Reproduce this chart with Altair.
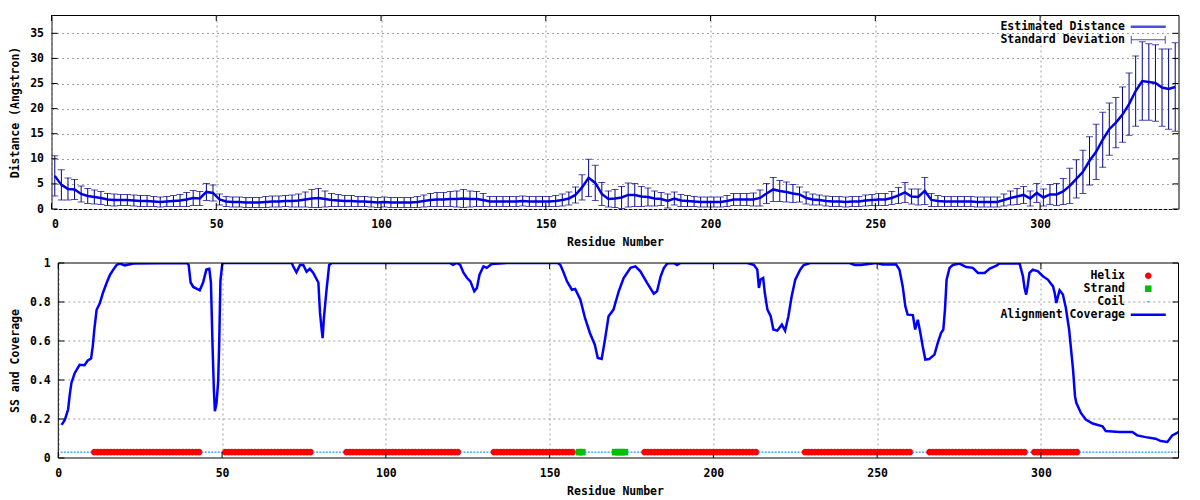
import altair as alt
import pandas as pd

FONT = "DejaVu Sans Mono"
FS = 11.5

# ---------------- top panel data (every second residue) ----------------
dist_residue = list(range(1, 342, 2))
dist_mean = [
    6.6, 4.8, 4.0, 3.9, 3.0, 2.6, 2.4, 2.2, 1.9, 1.8,
    1.8, 1.8, 1.7, 1.6, 1.6, 1.5, 1.4, 1.5, 1.6, 1.7,
    1.9, 2.2, 2.1, 3.4, 3.2, 1.9, 1.5, 1.4, 1.4, 1.3,
    1.3, 1.3, 1.4, 1.5, 1.5, 1.6, 1.6, 1.7, 1.9, 2.1,
    2.2, 2.0, 1.8, 1.7, 1.6, 1.6, 1.5, 1.5, 1.4, 1.3,
    1.4, 1.3, 1.3, 1.3, 1.3, 1.4, 1.6, 1.8, 1.9, 1.9,
    2.0, 2.0, 2.1, 2.0, 2.0, 1.8, 1.5, 1.5, 1.5, 1.5,
    1.5, 1.6, 1.5, 1.5, 1.5, 1.5, 1.6, 1.8, 2.1, 2.8,
    4.3, 6.2, 5.2, 3.0, 2.0, 2.1, 2.3, 2.8, 2.8, 2.5,
    2.4, 2.1, 2.0, 1.6, 2.1, 1.7, 1.6, 1.5, 1.4, 1.4,
    1.4, 1.4, 1.6, 1.9, 1.9, 1.9, 1.9, 2.2, 3.1, 3.9,
    3.6, 3.4, 3.1, 2.9, 2.2, 1.9, 1.8, 1.6, 1.5, 1.5,
    1.4, 1.5, 1.5, 1.7, 1.8, 1.9, 1.9, 2.2, 2.7, 3.3,
    2.5, 2.4, 3.6, 1.8, 1.6, 1.5, 1.5, 1.5, 1.5, 1.5,
    1.4, 1.4, 1.4, 1.4, 1.8, 2.2, 2.5, 2.8, 2.1, 3.2,
    2.3, 2.9, 2.9, 3.5, 4.6, 6.0, 7.4, 9.6, 11.4, 13.8,
    15.9, 17.2, 18.8, 20.9, 23.5, 25.5, 25.3, 25.1, 24.2, 23.9,
    24.3,
]
dist_sd = [
    4.0, 3.0, 2.2, 2.0, 1.6, 1.5, 1.4, 1.3, 1.2, 1.2,
    1.1, 1.1, 1.1, 1.1, 1.1, 1.0, 1.0, 1.0, 1.1, 1.2,
    1.4, 1.5, 1.4, 1.7, 1.6, 1.1, 1.0, 1.0, 1.0, 1.0,
    1.0, 1.0, 1.1, 1.1, 1.1, 1.1, 1.2, 1.3, 1.5, 1.8,
    1.9, 1.6, 1.3, 1.2, 1.1, 1.1, 1.0, 1.0, 1.0, 1.0,
    1.0, 1.0, 1.0, 1.0, 1.0, 1.1, 1.2, 1.3, 1.4, 1.4,
    1.5, 1.6, 1.8, 1.6, 1.5, 1.3, 1.0, 1.0, 1.0, 1.0,
    1.0, 1.0, 1.0, 1.0, 1.0, 1.0, 1.1, 1.2, 1.3, 1.6,
    2.5, 3.7, 3.5, 2.3, 1.6, 1.8, 2.2, 2.4, 2.3, 2.0,
    1.8, 1.5, 1.3, 1.4, 1.3, 1.2, 1.1, 1.0, 1.0, 1.0,
    1.0, 1.0, 1.1, 1.2, 1.2, 1.2, 1.3, 1.6, 2.0, 2.4,
    2.1, 2.0, 1.8, 1.5, 1.2, 1.1, 1.0, 1.0, 1.0, 1.0,
    1.0, 1.0, 1.0, 1.1, 1.1, 1.2, 1.2, 1.3, 1.6, 2.0,
    1.5, 1.6, 2.7, 1.3, 1.1, 1.0, 1.0, 1.0, 1.0, 1.0,
    1.0, 1.0, 1.0, 1.0, 1.2, 1.4, 1.6, 1.7, 1.5, 1.9,
    1.7, 2.0, 2.2, 2.6, 3.5, 3.8, 4.3, 4.8, 5.5, 5.5,
    5.2, 5.0, 5.5, 6.2, 7.0, 7.8, 7.6, 7.6, 7.7, 8.0,
    8.8,
]

# ---------------- bottom panel data ----------------
cov_residue = [
    1, 2, 3, 3.5, 4, 5, 6.5, 8, 9, 10,
    10.5, 11, 11.7, 12.7, 13.7, 14.8, 15.8, 16.8, 17.8, 18.8,
    20.3, 22.9, 39.3, 39.8, 40.4, 41.2, 43.2, 44.2, 45.2, 46.1,
    46.6, 47.1, 47.5, 47.8, 48.3, 48.8, 49.1, 49.5, 50.1, 71.3,
    71.7, 72.7, 73.8, 74.8, 75.8, 76.8, 77.8, 79.4, 79.9, 80.4,
    80.7, 81.1, 81.9, 82.7, 83.5, 119.5, 120.5, 121.7, 122.7, 123.7,
    124.8, 125.8, 127, 127.8, 128.6, 129.8, 130.8, 132.3, 137, 152.5,
    153.3, 154.3, 155.3, 156.8, 157.8, 159.4, 160.8, 162.3, 163.8, 164.7,
    165.9, 166.9, 168, 169.5, 171.1, 172.6, 174.7, 176.2, 177.7, 179.8,
    181.8, 182.8, 183.9, 184.9, 185.9, 187.9, 188.9, 190, 210.4, 212.4,
    213.4, 213.9, 214.4, 215.2, 215.7, 216.5, 217.5, 218.3, 219.5, 220.9,
    221.9, 222.9, 223.9, 225, 226.5, 227.5, 229.5, 241.6, 243.1, 245,
    249.8, 251.7, 255.8, 256.8, 257.8, 258.6, 259.3, 260.9, 261.6, 262.4,
    263.1, 263.9, 264.7, 265.9, 267.5, 268.5, 269.5, 270.2, 270.7, 271.2,
    272.1, 273.1, 275.1, 277.2, 279.2, 280.8, 282.8, 284.4, 286.4, 287.3,
    293.5, 294.5, 295, 295.5, 296, 296.5, 297.5, 299.1, 300.6, 302.1,
    303.7, 304.2, 304.7, 305.2, 305.7, 306.7, 307.6, 308.6, 309.4, 309.8,
    310.4, 310.8, 312.2, 313.7, 315.8, 318.8, 319.8, 323.9, 327.9, 329.4,
    332, 335, 336.6, 338.6, 340.1, 342,
]
cov_value = [
    0.17, 0.195, 0.25, 0.325, 0.385, 0.435, 0.478, 0.476, 0.5, 0.51,
    0.57, 0.66, 0.76, 0.795, 0.85, 0.9, 0.94, 0.966, 0.99, 0.997,
    0.988, 0.997, 1.0, 0.99, 0.9, 0.877, 0.86, 0.9, 0.966, 0.97,
    0.9, 0.57, 0.35, 0.24, 0.28, 0.39, 0.57, 0.91, 1.0, 1.0,
    0.983, 0.952, 0.99, 0.99, 0.955, 0.97, 0.95, 0.9, 0.744, 0.66,
    0.615, 0.72, 0.863, 0.99, 1.0, 1.0, 0.99, 1.0, 0.99, 0.95,
    0.923, 0.906, 0.855, 0.872, 0.94, 0.983, 0.975, 0.995, 1.0, 1.0,
    0.99, 0.95, 0.906, 0.863, 0.867, 0.812, 0.718, 0.641, 0.581, 0.513,
    0.508, 0.607, 0.727, 0.761, 0.855, 0.923, 0.975, 0.983, 0.957, 0.897,
    0.843, 0.855, 0.932, 0.975, 0.997, 1.0, 0.99, 1.0, 1.0, 0.99,
    0.966, 0.872, 0.915, 0.923, 0.846, 0.761, 0.727, 0.659, 0.653, 0.684,
    0.653, 0.727, 0.829, 0.915, 0.966, 0.988, 1.0, 1.0, 0.99, 0.99,
    1.0, 0.992, 0.992, 0.966, 0.88, 0.778, 0.735, 0.733, 0.659, 0.709,
    0.65, 0.573, 0.505, 0.508, 0.53, 0.59, 0.641, 0.659, 0.761, 0.915,
    0.975, 0.99, 0.997, 0.979, 0.975, 0.949, 0.949, 0.971, 0.986, 0.997,
    0.997, 0.932, 0.872, 0.838, 0.889, 0.949, 0.966, 0.957, 0.932, 0.915,
    0.88, 0.846, 0.795, 0.829, 0.86, 0.838, 0.77, 0.659, 0.522, 0.454,
    0.317, 0.283, 0.231, 0.197, 0.177, 0.163, 0.138, 0.133, 0.133, 0.116,
    0.107, 0.099, 0.087, 0.082, 0.116, 0.133,
]

n_residues = 342
ss_level = 0.03
helix_start = [11, 51, 88, 133, 179, 228, 266, 298]
helix_end = [43, 77, 122, 157, 213, 260, 295, 311]
strand_start = [159, 170]
strand_end = [160, 173]

x_ticks = [0, 50, 100, 150, 200, 250, 300]
dist_ticks = [0, 5, 10, 15, 20, 25, 30, 35]
cov_ticks = [0, 0.2, 0.4, 0.6, 0.8, 1.0]
x_range = [0, 342]

top_labels = ["Estimated Distance", "Standard Deviation"]
top_colors = ["#0000e0", "#00008b"]
ss_labels = ["Helix", "Strand", "Coil", "Alignment Coverage"]
ss_colors = ["#ff0000", "#00c000", "#2090ff", "#0000ff"]

# symbol outlines in pixels (drawn with symbol size 4 -> unit scale)
SYM_LINE = "M-17.5,-1.25H17.5V1.25H-17.5Z"
SYM_ERR = "M-17.5,-0.5H17.5V0.5H-17.5Z M-17.5,-4H-16.5V4H-17.5Z M16.5,-4H17.5V4H16.5Z"
SYM_DOT = "M-3.3,0A3.3,3.3 0 1,0 3.3,0A3.3,3.3 0 1,0 -3.3,0Z"
SYM_SQUARE = "M-3.3,-3.3H3.3V3.3H-3.3Z"
SYM_TINY = "M-1,-0.6H1V0.6H-1Z"

# ---------------- frames ----------------
W, H1, H2 = 1127, 194, 195
TICK = 6
SHIFT = 6.8          # lower frame starts this far right of the upper one
GRID = "#a0a0a0"

top_df = pd.DataFrame({"res": dist_residue, "mean": dist_mean, "sd": dist_sd})
top_df["lo"] = top_df["mean"] - top_df["sd"]
top_df["hi"] = top_df["mean"] + top_df["sd"]

ss_type = []
for r in range(1, n_residues + 1):
    t = "Coil"
    for a, b in zip(helix_start, helix_end):
        if a <= r <= b:
            t = "Helix"
    for a, b in zip(strand_start, strand_end):
        if a <= r <= b:
            t = "Strand"
    ss_type.append(t)
ss_df = pd.DataFrame({"res": list(range(1, n_residues + 1)), "ss": ss_type, "lvl": ss_level})
cov_df = pd.DataFrame({"res": cov_residue, "cov": cov_value})

xs1 = alt.Scale(domain=x_range, nice=False, zero=False)
ys1 = alt.Scale(domain=[0, 38.65], nice=False)
px_per_unit = (W - SHIFT) / (x_range[1] - x_range[0])
xs2 = alt.Scale(domain=[x_range[0] - SHIFT / px_per_unit, x_range[1]], nice=False, zero=False)
ys2 = alt.Scale(domain=[0, 1], nice=False)

ax_x = alt.Axis(values=x_ticks, title="Residue Number", grid=True, labelPadding=9, titlePadding=7)
ax_y1 = alt.Axis(values=dist_ticks, title="Distance (Angstron)", grid=True, labelPadding=8, titlePadding=9.2)
ax_y2 = alt.Axis(values=cov_ticks, title="SS and Coverage", grid=False, format=".1~f",
                 labelPadding=8, titlePadding=9.2, offset=-SHIFT)


def make_legend(x, y):
    return alt.Legend(orient="none", legendX=x, legendY=y, title=None,
                      labelAlign="right", labelOffset={"expr": "-29"},
                      symbolSize=4, symbolStrokeWidth=0, rowPadding=0, padding=0)


# ---------------- top panel ----------------
top_base = alt.Chart(top_df)
err_rule = top_base.mark_rule(color=top_colors[1], strokeWidth=1, clip=True).encode(
    x=alt.X("res:Q", scale=xs1, axis=ax_x),
    y=alt.Y("lo:Q", scale=ys1, axis=ax_y1),
    y2="hi:Q",
)
cap_lo = top_base.mark_tick(color=top_colors[1], thickness=1, size=7, orient="horizontal", clip=True).encode(
    x=alt.X("res:Q", scale=xs1, axis=ax_x), y=alt.Y("lo:Q", scale=ys1, axis=ax_y1))
cap_hi = top_base.mark_tick(color=top_colors[1], thickness=1, size=7, orient="horizontal", clip=True).encode(
    x=alt.X("res:Q", scale=xs1, axis=ax_x), y=alt.Y("hi:Q", scale=ys1, axis=ax_y1))
mean_line = top_base.mark_line(color=top_colors[0], strokeWidth=2.5, clip=True).encode(
    x=alt.X("res:Q", scale=xs1, axis=ax_x), y=alt.Y("mean:Q", scale=ys1, axis=ax_y1))

top_legend_layer = alt.Chart(pd.DataFrame({"label": top_labels})).transform_filter(
    "false").mark_point(filled=True, size=4).encode(
    color=alt.Color("label:N", scale=alt.Scale(domain=top_labels, range=top_colors),
                    legend=make_legend(1091, 6)),
    shape=alt.Shape("label:N", scale=alt.Scale(domain=top_labels, range=[SYM_LINE, SYM_ERR]),
                    legend=make_legend(1091, 6)),
)

tx = alt.Chart(pd.DataFrame({"t": x_ticks})).mark_rule(color="black", strokeWidth=1)
ty1 = alt.Chart(pd.DataFrame({"t": dist_ticks})).mark_rule(color="black", strokeWidth=1)
top_ticks = [
    tx.encode(x=alt.X("t:Q", scale=xs1, axis=ax_x), y=alt.value(0), y2=alt.value(TICK)),
    tx.encode(x=alt.X("t:Q", scale=xs1, axis=ax_x), y=alt.value(H1 - TICK), y2=alt.value(H1)),
    ty1.encode(y=alt.Y("t:Q", scale=ys1, axis=ax_y1), x=alt.value(0), x2=alt.value(TICK)),
    ty1.encode(y=alt.Y("t:Q", scale=ys1, axis=ax_y1), x=alt.value(W - TICK), x2=alt.value(W)),
]

top = alt.layer(err_rule, cap_lo, cap_hi, mean_line, top_legend_layer, *top_ticks
                ).properties(width=W, height=H1)

# ---------------- bottom panel ----------------
ss_points = alt.Chart(ss_df).mark_point(filled=True, size=4, opacity=1).encode(
    x=alt.X("res:Q", scale=xs2, axis=ax_x),
    y=alt.Y("lvl:Q", scale=ys2, axis=ax_y2),
    color=alt.Color("ss:N", scale=alt.Scale(domain=ss_labels, range=ss_colors),
                    legend=make_legend(1091, 7)),
    shape=alt.Shape("ss:N", scale=alt.Scale(domain=ss_labels,
                                            range=[SYM_DOT, SYM_SQUARE, SYM_TINY, SYM_LINE]),
                    legend=make_legend(1091, 7)),
)
cov_line = alt.Chart(cov_df).mark_line(color=ss_colors[3], strokeWidth=2.5, clip=True).encode(
    x=alt.X("res:Q", scale=xs2, axis=ax_x), y=alt.Y("cov:Q", scale=ys2, axis=ax_y2))

# horizontal grid, frame and inward ticks of the lower panel, drawn on its own scales
hgrid_df = pd.DataFrame({"y": cov_ticks[1:-1], "x0": x_range[0], "x1": x_range[1]})
hgrid = alt.Chart(hgrid_df).mark_rule(color=GRID, strokeWidth=1, strokeDash=[2, 3]).encode(
    x=alt.X("x0:Q", scale=xs2, axis=ax_x), x2="x1:Q", y=alt.Y("y:Q", scale=ys2, axis=ax_y2))
hframe_df = pd.DataFrame({"y": [cov_ticks[0], cov_ticks[-1]], "x0": x_range[0], "x1": x_range[1]})
hframe = alt.Chart(hframe_df).mark_rule(color="black", strokeWidth=1).encode(
    x=alt.X("x0:Q", scale=xs2, axis=ax_x), x2="x1:Q", y=alt.Y("y:Q", scale=ys2, axis=ax_y2))
vframe_df = pd.DataFrame({"x": x_range, "y0": cov_ticks[0], "y1": cov_ticks[-1]})
vframe = alt.Chart(vframe_df).mark_rule(color="black", strokeWidth=1).encode(
    x=alt.X("x:Q", scale=xs2, axis=ax_x), y=alt.Y("y0:Q", scale=ys2, axis=ax_y2), y2="y1:Q")
ty2 = alt.Chart(pd.DataFrame({"t": cov_ticks})).mark_rule(color="black", strokeWidth=1)
bottom_ticks = [
    tx.encode(x=alt.X("t:Q", scale=xs2, axis=ax_x), y=alt.value(0), y2=alt.value(TICK)),
    tx.encode(x=alt.X("t:Q", scale=xs2, axis=ax_x), y=alt.value(H2 - TICK), y2=alt.value(H2)),
    ty2.encode(y=alt.Y("t:Q", scale=ys2, axis=ax_y2), x=alt.value(SHIFT), x2=alt.value(SHIFT + TICK)),
    ty2.encode(y=alt.Y("t:Q", scale=ys2, axis=ax_y2), x=alt.value(W - TICK), x2=alt.value(W)),
]

bottom = alt.layer(hgrid, ss_points, cov_line, hframe, vframe, *bottom_ticks
                   ).properties(width=W, height=H2, view=alt.ViewBackground(stroke="transparent"))

chart = alt.vconcat(top, bottom, spacing=7).resolve_scale(
    x="independent", y="independent", color="independent", shape="independent"
).properties(
    padding={"left": 0.5, "top": 6, "right": 5, "bottom": 5}
).configure_view(
    stroke="black", strokeWidth=1
).configure_axis(
    domain=False, ticks=False,
    labelFont=FONT, labelFontSize=FS, labelFontWeight="bold", labelColor="black",
    titleFont=FONT, titleFontSize=FS, titleFontWeight="bold", titleColor="black",
    gridColor=GRID, gridDash=[2, 3], gridWidth=1, gridOpacity=1,
).configure_legend(
    labelFont=FONT, labelFontSize=FS, labelFontWeight="bold", labelColor="black",
)

chart.save("out.html", embed_options={"renderer": "svg", "actions": False})
